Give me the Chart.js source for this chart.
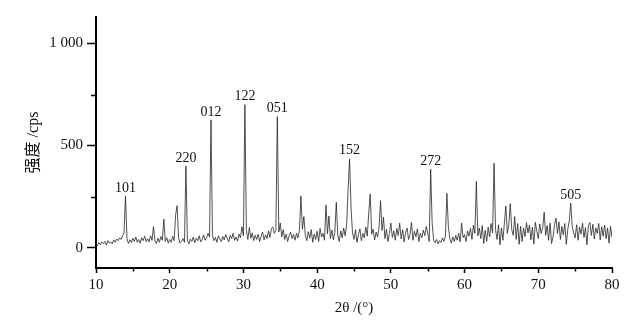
<!DOCTYPE html>
<html>
<head>
<meta charset="utf-8">
<script src="https://cdn.jsdelivr.net/npm/chart.js@4/dist/chart.umd.min.js"></script>
<style>
  html, body { margin: 0; padding: 0; background: #fff; }
  #wrap { width: 636px; height: 324px; }
</style>
</head>
<body>
<div id="wrap"><canvas id="c" width="636" height="324"></canvas></div>
<script>
// 2θ from 10° to 80°, step 0.2°
const startAngle = 10;
const stepAngle = 0.2;
// intensity (cps), one row per degree (x.0, x.2, x.4, x.6, x.8)
const counts = [
  18, 10, 24, 14, 28,      // 10
  20, 30, 12, 34, 22,      // 11
  28, 18, 38, 26, 42,      // 12
  34, 48, 40, 58, 72,      // 13
  253, 44, 20, 38, 24,     // 14
  46, 30, 52, 26, 40,      // 15
  22, 48, 34, 56, 30,      // 16
  44, 28, 58, 36, 103,     // 17
  32, 20, 46, 26, 54,      // 18
  36, 139, 30, 48, 22,     // 19
  40, 26, 56, 34, 160,     // 20
  205, 48, 22, 30, 44,     // 21
  26, 400, 36, 18, 42,     // 22
  30, 52, 24, 46, 34,      // 23
  58, 28, 40, 62, 36,      // 24
  48, 70, 52, 626, 60,     // 25
  34, 50, 26, 58, 42,      // 26
  30, 54, 38, 64, 46,      // 27
  28, 60, 44, 70, 36,      // 28
  52, 32, 66, 48, 102,     // 29
  58, 700, 84, 40, 98,     // 30
  46, 72, 34, 60, 40,      // 31
  66, 30, 54, 76, 38,      // 32
  62, 44, 82, 50, 94,      // 33
  100, 70, 84, 642, 76,    // 34
  120, 52, 88, 40, 66,     // 35
  30, 58, 76, 44, 64,      // 36
  36, 70, 48, 86, 253,     // 37
  90, 152, 60, 34, 78,     // 38
  46, 88, 26, 66, 40,      // 39
  80, 30, 94, 52, 70,      // 40
  36, 209, 68, 155, 44,    // 41
  86, 38, 74, 222, 60,     // 42
  30, 82, 48, 96, 58,      // 43
  110, 283, 435, 193, 72,  // 44
  40, 88, 26, 64, 92,      // 45
  34, 70, 48, 100, 56,     // 46
  170, 263, 66, 90, 38,    // 47
  76, 52, 98, 230, 84,     // 48
  149, 44, 90, 30, 68,     // 49
  120, 50, 82, 36, 94,     // 50
  60, 120, 42, 88, 28,     // 51
  74, 96, 40, 64, 123,     // 52
  36, 80, 54, 92, 30,      // 53
  70, 48, 86, 58, 103,     // 54
  72, 30, 384, 123, 36,    // 55
  24, 40, 18, 34, 26,      // 56
  48, 30, 56, 266, 103,    // 57
  44, 22, 52, 30, 60,      // 58
  36, 70, 28, 120, 48,     // 59
  64, 30, 82, 56, 94,      // 60
  40, 110, 70, 324, 58,    // 61
  96, 44, 108, 20, 84,     // 62
  30, 100, 52, 118, 72,    // 63
  414, 88, 40, 112, 14,    // 64
  96, 36, 120, 204, 70,    // 65
  112, 215, 88, 60, 152,   // 66
  40, 118, 16, 104, 30,    // 67
  96, 54, 122, 72, 110,    // 68
  38, 100, 18, 124, 80,    // 69
  44, 116, 70, 98, 173,    // 70
  60, 108, 36, 120, 20,    // 71
  52, 112, 144, 70, 126,   // 72
  40, 104, 62, 118, 16,    // 73
  90, 130, 218, 104, 72,   // 74
  48, 112, 36, 100, 66,    // 75
  120, 50, 98, 14, 108,    // 76
  123, 60, 114, 42, 96,    // 77
  70, 118, 38, 102, 56,    // 78
  110, 44, 96, 22, 104,    // 79
  50                       // 80
];

// peak (hkl) annotations
const hklLabels = ['101', '220', '012', '122', '051', '152', '272', '505'];
const hklAngles = [14.0, 22.2, 25.6, 30.2, 34.6, 44.4, 55.4, 74.4];
const hklCounts = [253, 400, 626, 700, 642, 435, 384, 218];

// axis ticks
const yTickValues = [0, 250, 500, 750, 1000];
const yTickLabels = { 0: '0', 500: '500', 1000: '1 000' };
const xTickValues = [10, 15, 20, 25, 30, 35, 40, 45, 50, 55, 60, 65, 70, 75, 80];

const points = counts.map((v, i) => ({ x: +(startAngle + stepAngle * i).toFixed(1), y: v }));

const serif = '"Liberation Serif", "Times New Roman", serif';

const extrasPlugin = {
  id: 'extras',
  afterDraw(chart) {
    const ctx = chart.ctx;
    const xs = chart.scales.x, ys = chart.scales.y;
    const area = chart.chartArea;
    ctx.save();
    // minor ticks
    ctx.strokeStyle = '#000';
    ctx.lineWidth = 1.5;
    yTickValues.forEach(v => {
      if (v % 500 !== 0) {
        const y = Math.round(ys.getPixelForValue(v)) + 0.5;
        ctx.beginPath(); ctx.moveTo(area.left - 5, y); ctx.lineTo(area.left, y); ctx.stroke();
      }
    });
    xTickValues.forEach(v => {
      if (v % 10 !== 0) {
        const x = Math.round(xs.getPixelForValue(v)) + 0.5;
        ctx.beginPath(); ctx.moveTo(x, area.bottom); ctx.lineTo(x, area.bottom + 3.5); ctx.stroke();
      }
    });
    // hkl labels
    ctx.fillStyle = '#111';
    ctx.font = '14px ' + serif;
    ctx.textAlign = 'center';
    ctx.textBaseline = 'middle';
    hklLabels.forEach((t, i) => {
      const x = xs.getPixelForValue(hklAngles[i]);
      const y = ys.getPixelForValue(hklCounts[i]);
      ctx.fillText(t, x, y - 8);
    });
    ctx.restore();
  }
};

new Chart(document.getElementById('c'), {
  type: 'line',
  data: {
    datasets: [{
      data: points,
      borderColor: '#262626',
      borderWidth: 0.8,
      pointRadius: 0,
      tension: 0,
      fill: false
    }]
  },
  options: {
    responsive: false,
    animation: false,
    devicePixelRatio: 1,
    layout: { padding: { top: 17, right: 24, left: 0, bottom: 0 } },
    plugins: { legend: { display: false }, tooltip: { enabled: false } },
    scales: {
      x: {
        type: 'linear',
        min: 10, max: 80,
        afterBuildTicks: s => { s.ticks = xTickValues.map(v => ({ value: v })); },
        afterFit: s => { s.height = 56; },
        border: { display: true, color: '#000', width: 2 },
        grid: {
          drawOnChartArea: false, drawTicks: true, tickLength: 5, tickWidth: 1.5,
          tickColor: c => (c.tick && c.tick.value % 10 === 0) ? '#000' : 'rgba(0,0,0,0)'
        },
        ticks: {
          autoSkip: false, maxRotation: 0, padding: 3, color: '#111',
          font: { family: serif, size: 15 },
          callback: v => (v % 10 === 0 ? String(v) : '')
        },
        title: {
          display: true, text: '2θ /(°)', color: '#111',
          font: { family: serif, size: 15 },
          padding: { top: 0, bottom: 7 }
        }
      },
      y: {
        type: 'linear',
        min: -100, max: 1130,
        afterBuildTicks: s => { s.ticks = yTickValues.map(v => ({ value: v })); },
        afterFit: s => { s.width = 96; },
        border: { display: true, color: '#000', width: 2 },
        grid: {
          drawOnChartArea: false, drawTicks: true, tickLength: 9, tickWidth: 1.5,
          tickColor: c => (c.tick && c.tick.value % 500 === 0) ? '#000' : 'rgba(0,0,0,0)'
        },
        ticks: {
          autoSkip: false, padding: 4, color: '#111',
          font: { family: serif, size: 15 },
          callback: v => (yTickLabels[v] !== undefined ? yTickLabels[v] : '')
        },
        title: {
          display: true, text: '强度 /cps', color: '#111',
          font: { family: '"Liberation Serif", "Noto Sans CJK SC", serif', size: 16 },
          padding: { top: 24, bottom: 0 }
        }
      }
    }
  },
  plugins: [extrasPlugin]
});
</script>
</body>
</html>
